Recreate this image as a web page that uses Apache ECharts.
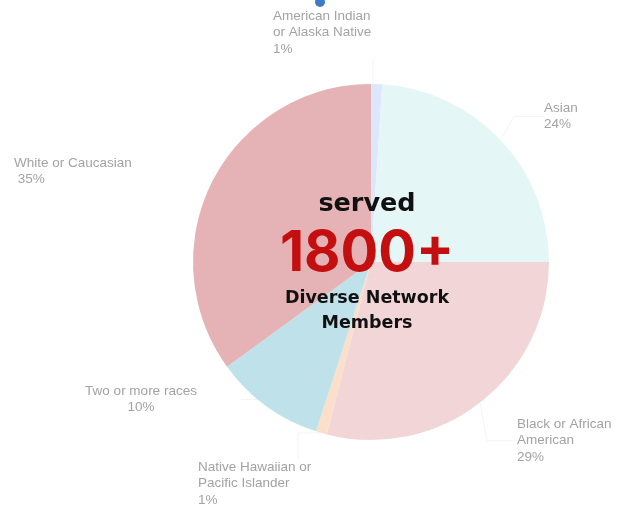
<!DOCTYPE html>
<html>
<head>
<meta charset="utf-8">
<script src="https://cdn.jsdelivr.net/npm/echarts@6/dist/echarts.min.js"></script>
<style>html,body{margin:0;padding:0;background:#fff;}#c{width:618px;height:508px;}</style>
</head>
<body>
<div id="c"></div>
<script>
const categories = ["American Indian or Alaska Native", "Asian", "Black or African American", "Native Hawaiian or Pacific Islander", "Two or more races", "White or Caucasian"];
const labelTexts = ["American Indian\nor Alaska Native", "Asian", "Black or African\nAmerican", "Native Hawaiian or\nPacific Islander", "Two or more races", "White or Caucasian"];
const values = [1, 24, 29, 1, 10, 35];
const colors = ["#dde7fa", "#e5f6f6", "#f2d6d7", "#fbdfca", "#bfe1ea", "#e5b3b5"];
const labelPos = [
  {x: 273, y: 8, align: "left"},
  {x: 544, y: 100, align: "left"},
  {x: 517, y: 416, align: "left"},
  {x: 198, y: 459, align: "left"},
  {x: 141, y: 383, align: "center"},
  {x: 14, y: 155, align: "left"}
];

const chart = echarts.init(document.getElementById("c"), null, {renderer: "canvas"});
const cx = 371, cy = 262;
chart.setOption({
  animation: false,
  series: [{
    type: "pie",
    z: 1,
    center: [cx, cy],
    radius: [0, 178],
    startAngle: 90,
    clockwise: true,
    data: categories.map((n, i) => ({name: n, value: values[i], itemStyle: {color: colors[i]}})),
    label: {
      show: true,
      color: "#a3a3a3",
      fontFamily: "Liberation Sans, Arial, sans-serif",
      fontSize: 13.5,
      lineHeight: 16.5,
      overflow: "none",
      width: 200,
      formatter: p => labelTexts[p.dataIndex] + "\n" + (p.dataIndex === 5 ? " " : "") + p.value + "%"
    },
    labelLine: {show: true, lineStyle: {color: "#f4f4f4", width: 1}},
    labelLayout: p => ({x: labelPos[p.dataIndex].x, y: labelPos[p.dataIndex].y, align: labelPos[p.dataIndex].align, verticalAlign: "top"}),
    emphasis: {disabled: true}
  }],
  graphic: {
    elements: [
      {type: "circle", z: 100, shape: {cx: 320, cy: 2, r: 5}, style: {fill: "#3f7ac6"}},
      {type: "text", z: 100, x: 367, y: 204, style: {text: "served", font: "bold 25.5px 'DejaVu Sans', sans-serif", fill: "#111", align: "center", verticalAlign: "middle"}},
      {type: "text", z: 100, x: 367, y: 254, style: {text: "1800+", font: "bold 56px Inter, sans-serif", fill: "#c30f0f", align: "center", verticalAlign: "middle"}},
      {type: "text", z: 100, x: 367, y: 298, style: {text: "Diverse Network", font: "bold 17.5px 'DejaVu Sans', sans-serif", fill: "#111", align: "center", verticalAlign: "middle"}},
      {type: "text", z: 100, x: 367, y: 323, style: {text: "Members", font: "bold 17.5px 'DejaVu Sans', sans-serif", fill: "#111", align: "center", verticalAlign: "middle"}}
    ]
  }
});
</script>
</body>
</html>
